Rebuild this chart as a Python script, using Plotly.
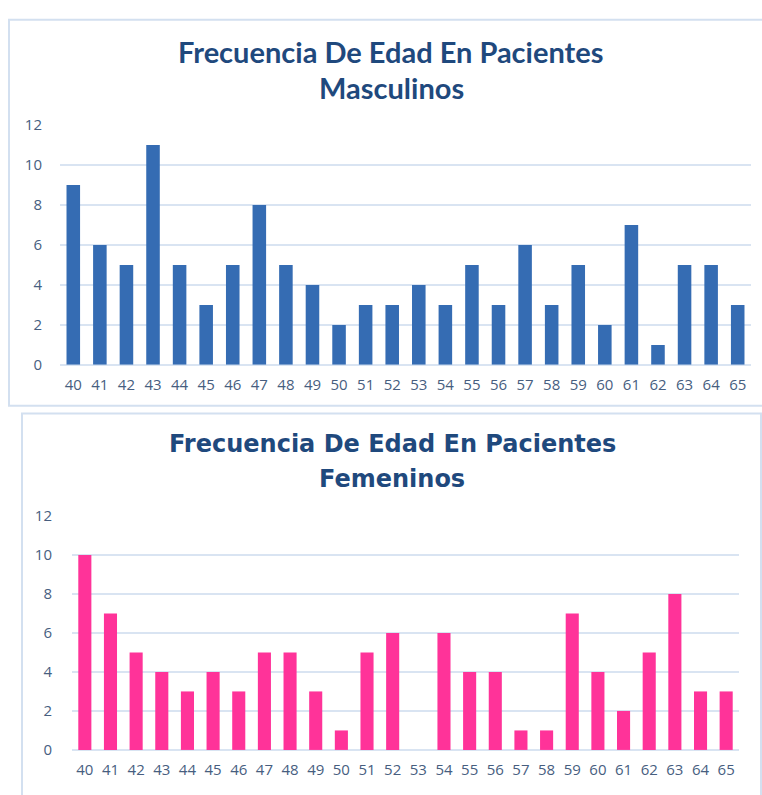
import plotly.graph_objects as go

ages = [str(a) for a in range(40, 66)]
male_counts = [9, 6, 5, 11, 5, 3, 5, 8, 5, 4, 2, 3, 3, 4, 3, 5, 3, 6, 3, 5, 2, 7, 1, 5, 5, 3]
female_counts = [10, 7, 5, 4, 3, 4, 3, 5, 5, 3, 1, 5, 6, 0, 6, 4, 4, 1, 1, 7, 4, 2, 5, 8, 3, 3]
y_ticks = [0, 2, 4, 6, 8, 10, 12]
title_male = ["Frecuencia De Edad En Pacientes", "Masculinos"]
title_female = ["Frecuencia De Edad En Pacientes", "Femeninos"]

W, H = 762, 795
def px(x):  # page x -> paper
    return x / W
def py(y):  # page y -> paper
    return 1 - y / H

grid_col = "#D9E4F2"
tick_col = "#475E7F"
title_col = "#1F497D"
border_col = "#D3E0F0"

fig = go.Figure()
fig.add_trace(go.Bar(x=ages, y=male_counts, marker=dict(color="#356CB3", line=dict(width=0)),
                     xaxis="x", yaxis="y", showlegend=False))
fig.add_trace(go.Bar(x=ages, y=female_counts, marker=dict(color="#FF3399", line=dict(width=0)),
                     xaxis="x2", yaxis="y2", showlegend=False))

tick_font = dict(family="Open Sans", size=15, color=tick_col)
axis_common_x = dict(type="category", showgrid=False, zeroline=False, showline=False,
                     ticks="", tickfont=tick_font, fixedrange=True)
axis_common_y = dict(range=[0, 12], tickvals=y_ticks, showgrid=True, gridcolor=grid_col,
                     gridwidth=2, zeroline=True, zerolinecolor=grid_col, zerolinewidth=2,
                     showline=False, ticks="", tickfont=tick_font, fixedrange=True)

annotations = []
for line, yy in zip(title_male, [42, 78]):
    annotations.append(dict(text="<b>" + line + "</b>", xref="paper", yref="paper",
                            x=px(391), y=py(yy), xanchor="center", yanchor="middle",
                            showarrow=False, font=dict(family="Lato", size=29, color=title_col)))
for line, yy in zip(title_female, [444, 480]):
    annotations.append(dict(text="<b>" + line + "</b>", xref="paper", yref="paper",
                            x=px(392), y=py(yy), xanchor="center", yanchor="middle",
                            showarrow=False, font=dict(family="DejaVu Sans", size=24, color=title_col)))

fig.update_layout(
    width=W, height=H,
    margin=dict(l=0, r=0, t=0, b=0),
    paper_bgcolor="white", plot_bgcolor="white",
    bargap=0.49,
    xaxis=dict(domain=[px(60), px(751)], anchor="y", ticklabelstandoff=9, **axis_common_x),
    yaxis=dict(domain=[py(363), py(117)], anchor="x", ticklabelstandoff=17, **axis_common_y),
    xaxis2=dict(domain=[px(72), px(739)], anchor="y2", ticklabelstandoff=9, **axis_common_x),
    yaxis2=dict(domain=[py(758), py(518)], anchor="x2", ticklabelstandoff=19, **axis_common_y),
    shapes=[
        dict(type="rect", xref="paper", yref="paper", x0=px(9), x1=px(790), y0=py(405), y1=py(9),
             line=dict(color=border_col, width=2), fillcolor="rgba(0,0,0,0)", layer="below"),
        dict(type="rect", xref="paper", yref="paper", x0=px(22), x1=px(761), y0=py(830), y1=py(413),
             line=dict(color=border_col, width=2), fillcolor="rgba(0,0,0,0)", layer="below"),
    ],
    annotations=annotations,
)

fig.write_html("out.html", config={"displayModeBar": False},
               post_script="document.body.style.margin='0';document.body.style.overflow='hidden';")
